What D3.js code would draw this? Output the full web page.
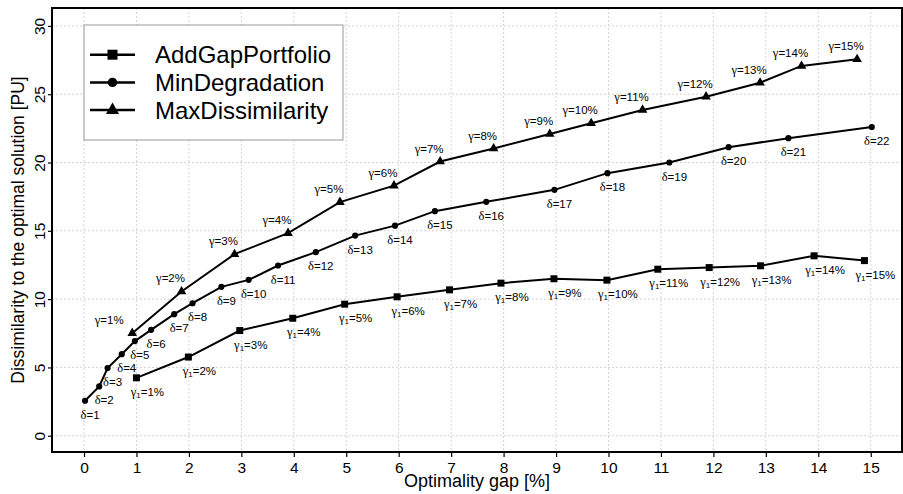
<!DOCTYPE html>
<html>
<head>
<meta charset="utf-8">
<script src="https://cdn.jsdelivr.net/npm/d3@7"></script>
<style>
    body { margin: 0; background: #fff; }
    text { font-family: "Liberation Sans", Arial, sans-serif; }
</style>
</head>
<body>
<div id="chart"></div>
<script>
// optimality gap [%] and dissimilarity [PU] for every method
var seriesNames = ["AddGapPortfolio", "MinDegradation", "MaxDissimilarity"];

var gapAdd = [1.00, 1.99, 2.97, 3.98, 4.97, 5.97, 6.97, 7.95, 8.96, 9.97, 10.94, 11.92, 12.90, 13.92, 14.88];
var disAdd = [4.24, 5.76, 7.70, 8.60, 9.63, 10.17, 10.68, 11.17, 11.49, 11.39, 12.19, 12.31, 12.44, 13.17, 12.82];

var gapMin = [0.02, 0.29, 0.45, 0.72, 0.97, 1.28, 1.72, 2.07, 2.62, 3.14, 3.70, 4.42, 5.17, 5.93, 6.69,
              7.67, 8.97, 9.98, 11.16, 12.29, 13.43, 15.02];
var disMin = [2.56, 3.61, 4.95, 5.97, 6.93, 7.75, 8.90, 9.70, 10.90, 11.41, 12.46, 13.44, 14.65, 15.38, 16.44,
              17.12, 18.00, 19.22, 20.00, 21.12, 21.78, 22.60];

var gapMax = [0.92, 1.86, 2.87, 3.89, 4.88, 5.91, 6.79, 7.81, 8.88, 9.67, 10.65, 11.86, 12.89, 13.68, 14.74];
var disMax = [7.51, 10.56, 13.29, 14.83, 17.10, 18.31, 20.07, 21.02, 22.09, 22.87, 23.85, 24.82, 25.84, 27.07, 27.56];

// point labels
var labelsAdd = d3.range(1, 16).map(function(k) { return k + "%"; });   // γ1=k%
var labelsMin = d3.range(1, 23).map(function(k) { return "" + k; });    // δ=k
var labelsMax = d3.range(1, 16).map(function(k) { return k + "%"; });   // γ=k%

var xTicks = d3.range(0, 16);
var yTicks = [0, 5, 10, 15, 20, 25, 30];

(function() {
    var w = 903, h = 494,
        pLeft = 52, pRight = 902, pTop = 8, pBottom = 452;

    var x = d3.scaleLinear().domain([-0.61, 15.596]).range([pLeft, pRight]),
        y = d3.scaleLinear().domain([-1.19, 31.31]).range([pBottom, pTop]);

    var svg = d3.select("#chart").append("svg")
        .attr("width", w)
        .attr("height", h);

    // grid
    svg.append("g").selectAll("line")
        .data(xTicks).enter().append("line")
        .attr("x1", function(d) { return x(d); })
        .attr("x2", function(d) { return x(d); })
        .attr("y1", pTop).attr("y2", pBottom)
        .attr("stroke", "#d4d4d4").attr("stroke-dasharray", "2,2");
    svg.append("g").selectAll("line")
        .data(yTicks).enter().append("line")
        .attr("y1", function(d) { return y(d); })
        .attr("y2", function(d) { return y(d); })
        .attr("x1", pLeft).attr("x2", pRight)
        .attr("stroke", "#d4d4d4").attr("stroke-dasharray", "2,2");

    // axes
    var xAxis = svg.append("g")
        .attr("transform", "translate(0," + pBottom + ")")
        .call(d3.axisBottom(x).tickValues(xTicks).tickSize(5).tickPadding(5).tickFormat(d3.format("d")));
    xAxis.select(".domain").remove();
    xAxis.selectAll("line").attr("stroke-width", 1.2);
    xAxis.selectAll("text").style("font-size", "15.5px").attr("fill", "#000");

    var yAxis = svg.append("g")
        .attr("transform", "translate(" + pLeft + ",0)")
        .call(d3.axisLeft(y).tickValues(yTicks).tickSize(4).tickFormat(d3.format("d")));
    yAxis.select(".domain").remove();
    yAxis.selectAll("line").attr("stroke-width", 1.2);
    yAxis.selectAll("text")
        .style("font-size", "15.5px").attr("fill", "#000")
        .attr("x", null).attr("dy", null)
        .attr("text-anchor", "middle")
        .attr("transform", "translate(-7,0) rotate(-90)");

    // frame
    svg.append("rect")
        .attr("x", pLeft).attr("y", pTop)
        .attr("width", pRight - pLeft).attr("height", pBottom - pTop)
        .attr("fill", "none").attr("stroke", "#000").attr("stroke-width", 2);

    // axis titles
    svg.append("text")
        .attr("x", (pLeft + pRight) / 2).attr("y", 487)
        .attr("text-anchor", "middle")
        .style("font-size", "18px")
        .text("Optimality gap [%]");
    svg.append("text")
        .attr("transform", "translate(24," + ((pTop + pBottom) / 2) + ") rotate(-90)")
        .attr("text-anchor", "middle")
        .style("font-size", "17.5px")
        .text("Dissimilarity to the optimal solution [PU]");

    var line = d3.line()
        .x(function(d) { return x(d[0]); })
        .y(function(d) { return y(d[1]); });

    function drawSeries(gaps, dis, shape, size) {
        var pts = d3.zip(gaps, dis);
        var g = svg.append("g");
        g.append("path")
            .datum(pts)
            .attr("d", line)
            .attr("fill", "none")
            .attr("stroke", "#000")
            .attr("stroke-width", 2);
        g.selectAll("path.pt")
            .data(pts).enter().append("path")
            .attr("class", "pt")
            .attr("d", d3.symbol().type(shape).size(size))
            .attr("transform", function(d) { return "translate(" + x(d[0]) + "," + y(d[1]) + ")"; })
            .attr("fill", "#000");
        return pts;
    }

    var ptsAdd = drawSeries(gapAdd, disAdd, d3.symbolSquare, 49);
    var ptsMin = drawSeries(gapMin, disMin, d3.symbolCircle, 30);
    var ptsMax = drawSeries(gapMax, disMax, d3.symbolTriangle, 40);

    var greek = "'Liberation Serif', 'DejaVu Serif', serif";

    // labels: γ1 below right of the squares
    var lAdd = svg.append("g").selectAll("text")
        .data(ptsAdd).enter().append("text")
        .attr("x", function(d) { return x(d[0]) + 11; })
        .attr("y", function(d) { return y(d[1]) + 18; })
        .attr("text-anchor", "middle")
        .style("font-size", "11.5px");
    lAdd.append("tspan").style("font-family", greek).style("font-size", "12.5px").text("γ");
    lAdd.append("tspan").attr("dy", 2).style("font-size", "8px").text("1");
    lAdd.append("tspan").attr("dy", -2).text(function(d, i) { return "=" + labelsAdd[i]; });

    // δ below right of the circles
    var lMin = svg.append("g").selectAll("text")
        .data(ptsMin).enter().append("text")
        .attr("x", function(d) { return x(d[0]) + 5; })
        .attr("y", function(d) { return y(d[1]) + 18; })
        .attr("text-anchor", "middle")
        .style("font-size", "11.5px");
    lMin.append("tspan").style("font-family", greek).style("font-size", "12.5px").text("δ");
    lMin.append("tspan").text(function(d, i) { return "=" + labelsMin[i]; });

    // γ above left of the triangles (first one pushed further left, off the circles)
    var lMax = svg.append("g").selectAll("text")
        .data(ptsMax).enter().append("text")
        .attr("x", function(d, i) { return x(d[0]) - (i === 0 ? 23 : 11); })
        .attr("y", function(d) { return y(d[1]) - 9; })
        .attr("text-anchor", "middle")
        .style("font-size", "11.5px");
    lMax.append("tspan").style("font-family", greek).style("font-size", "12.5px").text("γ");
    lMax.append("tspan").text(function(d, i) { return "=" + labelsMax[i]; });

    // legend
    var legend = svg.append("g");
    legend.append("rect")
        .attr("x", 84).attr("y", 25).attr("width", 259).attr("height", 115)
        .attr("fill", "#fff").attr("stroke", "#999").attr("stroke-width", 1);
    var legendShapes = [[d3.symbolSquare, 100], [d3.symbolCircle, 70], [d3.symbolTriangle, 75]];
    var rows = legend.selectAll("g.row")
        .data(seriesNames).enter().append("g")
        .attr("class", "row")
        .attr("transform", function(d, i) { return "translate(0," + (54.7 + i * 27.7) + ")"; });
    rows.append("line")
        .attr("x1", 90).attr("x2", 135)
        .attr("stroke", "#000").attr("stroke-width", 2.5);
    rows.append("path")
        .attr("d", function(d, i) { return d3.symbol().type(legendShapes[i][0]).size(legendShapes[i][1])(); })
        .attr("transform", "translate(112.5,0)");
    rows.append("text")
        .attr("x", 155).attr("y", 8.5)
        .style("font-size", "24px")
        .text(function(d) { return d; });
})();
</script>
</body>
</html>
